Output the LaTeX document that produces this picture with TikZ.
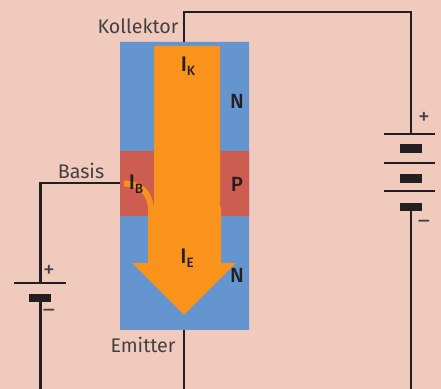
\documentclass[tikz,border=0pt]{standalone}
\usepackage{fontspec}
\setmainfont{Fira Sans}
\newfontfamily\regionfont{Fira Sans Medium}
\usepackage{tkz-euclide}
\definecolor{BgClr}{rgb}{0.941,0.792,0.741}
\definecolor{NClr}{rgb}{0.396,0.584,0.812}
\definecolor{PClr}{rgb}{0.804,0.361,0.318}
\definecolor{CurrentClr}{rgb}{0.976,0.576,0.110}
\definecolor{WireClr}{rgb}{0.137,0.122,0.125}
\tikzset{
  wire/.style={line width=2.4pt,color=WireClr},
  thinplate/.style={line width=2.3pt,color=WireClr},
  thickplate/.style={line width=7.2pt,color=WireClr},
  region/.style={font=\regionfont\fontsize{17.5}{17.5}\selectfont,text=WireClr,inner sep=0pt},
  lbl/.style={font=\fontsize{16.8}{17}\selectfont,text=WireClr!85!white,inner sep=0pt},
  sign/.style={font=\fontsize{20}{20}\selectfont,text=WireClr!85!white,inner sep=0pt}
}
\newcommand{\Cur}[2]{\fontsize{18}{18}\selectfont #1\raisebox{-.35ex}{\fontsize{11.5}{11.5}\selectfont #2}}

\begin{document}
\begin{tikzpicture}[scale=.03]

\tkzDefPoints{0/0/BgA,441/0/BgB,441/389/BgC,0/389/BgD}
\tkzDefPoints{120/59/NA,249/59/NB,249/347/NC,120/347/ND}
\tkzDefPoints{120/173/PA,249/173/PB,249/238/PC,120/238/PD}
\tkzDefPoints{154/343/AR1,220/343/AR2,220/182/AR3,221/182/AR4,221/126/AR5,236/126/AR6,184/74/AR7,132/126/AR8,148/126/AR9,148/184/AR10,154/184/AR11}
\tkzDefPoints{184/347/KA,184/377/KB,411/377/KC,411/255/KD,384/255/RP1,435/255/RP2}
\tkzDefPoints{400/240.5/RT1,422/240.5/RT2,384/226/RS1,435/226/RS2,400/210.7/RU1,422/210.7/RU2,384/198/RV1,435/198/RV2,400/182/RW1,422/182/RW2,411/182/RE,411/0/RF}
\tkzDefPoints{120/206/BA,40.5/206/BB,40.5/106/BC,14/106/LP1,66/106/LP2,29/91/LT1,51/91/LT2,40.5/91/LE,40.5/0/LF}
\tkzDefPoints{184/59/EA,184/0/EB}
\tkzDefPoints{124/205.5/CA,151/180/CB,141/205.5/CC,150/196/CD}

\useasboundingbox (BgA) rectangle (BgC);
\tkzFillPolygon[fill=BgClr](BgA,BgB,BgC,BgD)
\tkzFillPolygon[fill=NClr](NA,NB,NC,ND)
\tkzFillPolygon[fill=PClr](PA,PB,PC,PD)

\draw[wire] (KA) -- (KB) -- (KC) -- (KD);
\draw[wire] (BA) -- (BB) -- (BC);
\draw[wire] (LE) -- (LF);
\draw[wire] (RE) -- (RF);
\draw[wire] (EA) -- (EB);

\draw[line width=5pt,color=CurrentClr] (CA) .. controls (CC) and (CD) .. (CB);
\tkzFillPolygon[fill=CurrentClr](AR1,AR2,AR3,AR4,AR5,AR6,AR7,AR8,AR9,AR10,AR11)

\draw[thinplate] (RP1) -- (RP2);
\draw[thickplate] (RT1) -- (RT2);
\draw[thinplate] (RS1) -- (RS2);
\draw[thickplate] (RU1) -- (RU2);
\draw[thinplate] (RV1) -- (RV2);
\draw[thickplate] (RW1) -- (RW2);
\draw[thinplate] (LP1) -- (LP2);
\draw[thickplate] (LT1) -- (LT2);

\node[lbl] (Kollektor) at (138,363) {Kollektor};
\node[lbl] (Basis) at (81,218) {Basis};
\node[lbl] (Emitter) at (143,44) {Emitter};
\node[region] (IK) at (188,323) {\Cur{I}{K}};
\node[region] (IB) at (136,205) {\Cur{I}{B}};
\node[region] (IE) at (187,131) {\Cur{I}{E}};
\node[region] (NTop) at (237,288) {N};
\node[region] (PMid) at (237,205) {P};
\node[region] (NBot) at (237,114) {N};
\node[sign] (PlusR) at (424,271) {+};
\node[sign] (MinusR) at (424,165) {–};
\node[sign] (PlusL) at (49,118) {+};
\node[sign] (MinusL) at (49,76) {–};

\end{tikzpicture}
\end{document}
